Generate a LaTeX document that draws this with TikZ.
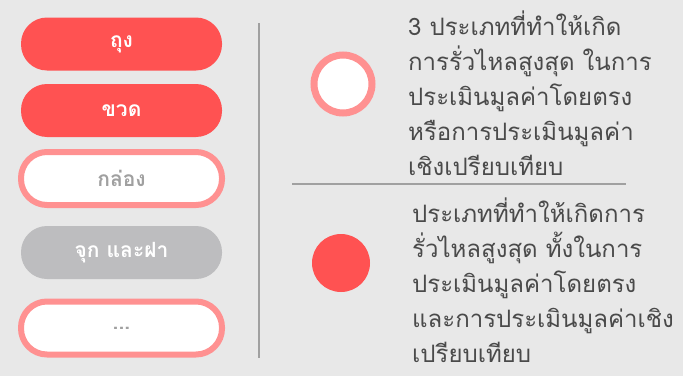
\documentclass[tikz,border=0pt]{standalone}
\usepackage{fontspec}
\newfontfamily\thaifont[Script=Thai]{Loma}
\definecolor{bgc}{RGB}{232,232,232}
\definecolor{redc}{RGB}{255,82,82}
\definecolor{pinkc}{RGB}{255,145,145}
\definecolor{grayc}{RGB}{189,189,191}
\definecolor{linec}{RGB}{160,160,160}
\definecolor{txtc}{RGB}{74,74,74}
\definecolor{ptxt}{RGB}{160,160,160}
\tikzset{
  pill/.style={rounded corners=26pt, minimum width=201pt, minimum height=53pt, inner sep=0pt,
    font=\thaifont\bfseries\fontsize{21}{24}\selectfont},
  redpill/.style={pill, fill=redc, text=white},
  graypill/.style={pill, fill=grayc, text=white},
  whitepill/.style={pill, fill=white, draw=pinkc, line width=6pt, text=ptxt},
  sep/.style={draw=linec, line width=2pt},
  para/.style={anchor=base west, align=left, inner sep=0pt, text=txtc,
    font=\thaifont\fontsize{24}{35}\selectfont}
}
\begin{document}
\begin{tikzpicture}[x=1pt,y=1pt]
\fill[bgc] (0,0) rectangle (683,376);
\useasboundingbox (0,0) rectangle (683,376);
\node[redpill] (p1) at (121.5,332) {ถุง};
\node[redpill] (p2) at (121.5,265.5) {ขวด};
\node[whitepill] (p3) at (121.5,197.5) {กล่อง};
\node[graypill] (p4) at (121.5,123.5) {จุก และฝา};
\node[whitepill] (p5) at (121.5,48) {...};
\coordinate (vtop) at (259,353);
\coordinate (vbot) at (259,18);
\draw[sep] (vtop) -- (vbot);
\coordinate (hl) at (292,192);
\coordinate (hr) at (626,192);
\draw[sep] (hl) -- (hr);
\node[circle, minimum size=58pt, inner sep=0pt, fill=white, draw=pinkc, line width=7pt] (c1) at (343,292) {};
\node[circle, minimum size=58pt, inner sep=0pt, fill=redc] (c2) at (341,113) {};
\node[para] (t1) at (408,201) {3 ประเภทที่ทำให้เกิด\\การรั่วไหลสูงสุด ในการ\\ประเมินมูลค่าโดยตรง\\หรือการประเมินมูลค่า\\เชิงเปรียบเทียบ};
\node[para] (t2) at (412,14) {ประเภทที่ทำให้เกิดการ\\รั่วไหลสูงสุด ทั้งในการ\\ประเมินมูลค่าโดยตรง\\และการประเมินมูลค่าเชิง\\เปรียบเทียบ};
\end{tikzpicture}
\end{document}
